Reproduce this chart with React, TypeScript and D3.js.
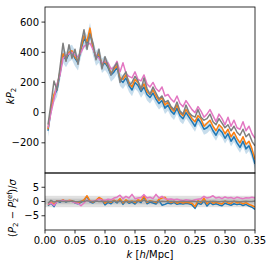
import React from 'react';
import * as d3 from 'd3';

// k bins [h/Mpc]
const kBins = [
  0.005, 0.01, 0.015, 0.02, 0.025, 0.03, 0.035, 0.04, 0.045, 0.05,
  0.055, 0.06, 0.065, 0.07, 0.075, 0.08, 0.085, 0.09, 0.095, 0.1,
  0.105, 0.11, 0.115, 0.12, 0.125, 0.13, 0.135, 0.14, 0.145, 0.15,
  0.155, 0.16, 0.165, 0.17, 0.175, 0.18, 0.185, 0.19, 0.195, 0.2,
  0.205, 0.21, 0.215, 0.22, 0.225, 0.23, 0.235, 0.24, 0.245, 0.25,
  0.255, 0.26, 0.265, 0.27, 0.275, 0.28, 0.285, 0.29, 0.295, 0.3,
  0.305, 0.31, 0.315, 0.32, 0.325, 0.33, 0.335, 0.34, 0.345, 0.35,
];

// kP2 for each run
const blueP2 = [
  -120, 20, 110, 150, 260, 380, 350, 390, 400, 360,
  330, 420, 490, 460, 540, 430, 360, 380, 310, 330,
  300, 250, 270, 300, 220, 200, 230, 180, 150, 200,
  180, 140, 170, 120, 100, 130, 90, 60, 80, 30,
  50, 10, -10, 30, -20, -40, 0, -30, -60, -90,
  -40, -70, -110, -100, -80, -120, -150, -110, -130, -170,
  -140, -190, -160, -200, -230, -190, -240, -220, -270, -340,
];
const orangeP2 = [
  -110, 30, 120, 170, 270, 390, 360, 400, 410, 370,
  340, 430, 510, 470, 560, 430, 370, 390, 320, 340,
  310, 260, 290, 310, 230, 220, 250, 200, 170, 220,
  200, 160, 190, 140, 120, 150, 110, 80, 100, 50,
  70, 30, 10, 50, 0, -20, 20, -10, -40, -60,
  -20, -40, -90, -70, -50, -90, -120, -80, -100, -140,
  -110, -160, -130, -170, -200, -160, -210, -190, -240, -310,
];
const pinkP2 = [
  -100, 0, 90, 190, 250, 360, 380, 390, 400, 380,
  370, 400, 440, 450, 460, 420, 380, 360, 330, 340,
  330, 290, 300, 340, 270, 330, 260, 240, 230, 270,
  220, 210, 250, 190, 170, 200, 160, 140, 170, 110,
  120, 90, 70, 110, 60, 40, 80, 50, 20, 0,
  40, 10, -30, -10, 20, -20, -60, -10, -40, -80,
  -30, -90, -50, -100, -110, -60, -120, -90, -140, -170,
];
const grayP2 = [
  -80, 60, 210, 150, 300, 460, 340, 450, 360, 420,
  320, 450, 550, 420, 520, 460, 350, 420, 290, 370,
  310, 250, 300, 330, 200, 240, 270, 180, 200, 240,
  210, 150, 230, 160, 120, 170, 130, 90, 110, 70,
  80, 40, 20, 70, 10, -10, 50, 0, -20, -30,
  20, -30, -50, -40, -10, -60, -80, -40, -70, -100,
  -80, -120, -90, -130, -150, -110, -160, -140, -190, -220,
];
// 1-sigma error on kP2 (blue band)
const sigmaP2 = [
  40, 42, 45, 45, 48, 50, 50, 52, 50, 52,
  50, 52, 55, 52, 55, 52, 50, 50, 48, 48,
  46, 46, 45, 45, 44, 44, 43, 43, 42, 42,
  42, 41, 41, 40, 40, 40, 40, 39, 39, 39,
  38, 38, 38, 38, 38, 37, 37, 37, 37, 37,
  36, 36, 36, 36, 36, 36, 36, 35, 35, 35,
  35, 35, 35, 35, 35, 35, 35, 35, 35, 35,
];

// residuals (P2 - P2ref)/sigma
const blueRes = [
  -1.5, -0.5, -1.8, 0.2, -0.3, 0.5, -0.2, 0.3, 0.1, -0.5,
  -0.8, -0.3, 0.4, 1.8, -0.2, -0.5, 0.2, 1.2, 0.5, -1.2,
  -0.3, -0.8, 0.2, -0.5, 0.8, -1.0, 0.3, -0.6, -0.2, -0.9,
  0.2, -0.4, 1.6, -0.8, -0.2, -0.5, -0.9, 0.3, -1.3, -1.0,
  -0.5, -0.8, -0.3, -1.0, -0.7, -0.9, -0.6, -0.8, -1.2, -2.4,
  -0.6, -1.0, 0.2, -1.6, -0.4, -1.1, -0.8, -1.2, -1.5, -0.6,
  -1.0, -1.3, -0.8, -1.1, -0.9, -1.4, -1.0, -1.6, -2.0, -2.8,
];
const orangeRes = [
  -1.2, -0.2, -1.0, 0.3, 0.0, 0.6, 0.0, 0.4, 0.3, -0.3,
  -0.5, 0.0, 0.6, 2.0, 0.2, -0.2, 0.4, 1.4, 0.8, -0.6,
  0.1, -0.3, 0.5, -0.1, 1.0, -0.5, 0.6, -0.2, 0.2, -0.4,
  0.6, 0.1, 2.0, -0.3, 0.3, 0.0, -0.4, 0.8, 1.2, 1.5,
  0.2, -0.4, 0.1, -0.6, -0.2, -0.5, -0.3, -0.4, -0.6, -1.8,
  0.3, -0.4, 1.2, -0.8, 0.1, -0.6, -0.3, -0.6, -0.9, 0.2,
  -0.5, -0.7, 0.1, -0.5, -0.3, -0.8, -0.4, -1.0, -1.4, -2.0,
];
const pinkRes = [
  -1.0, -0.5, -1.4, 0.0, 0.2, 0.4, 0.1, 0.2, 0.0, -0.4,
  -0.6, -1.5, -0.5, 0.5, 0.0, 0.2, 0.3, 0.8, 0.5, 0.4,
  0.8, 0.6, 1.2, 1.5, 2.2, 1.0, 1.8, 1.2, 2.5, 1.0,
  1.2, 1.4, 2.4, 1.2, 1.5, 1.0, 2.5, 1.2, 1.8, 1.0,
  0.8, 0.9, 0.6, 0.8, 0.5, 0.3, 0.6, 0.4, 0.2, 0.6,
  0.8, 1.0, 1.8, 1.2, 1.5, 2.0, 1.2, 1.5, 1.0, 1.6,
  1.2, 1.4, 1.0, 1.5, 1.2, 1.0, 1.3, 1.2, 1.5, 1.2,
];
const grayRes = [
  -0.6, 0.4, -0.2, 0.1, 0.2, 0.0, 0.1, 0.0, 0.2, 0.0,
  -0.1, 0.1, 0.0, 0.3, 0.1, 0.0, 0.2, 0.0, 0.1, 0.0,
  0.1, 0.0, 0.2, 0.0, 0.1, -0.1, 0.0, 0.1, 0.0, 0.1,
  0.0, 0.1, 0.4, 0.0, 0.1, 0.0, -0.1, 0.0, 0.1, 0.0,
  0.0, 0.1, 0.0, -0.1, 0.0, 0.1, 0.0, 0.0, 0.1, 0.0,
  -0.1, 0.0, 0.1, 0.0, 0.0, 0.1, 0.0, -0.1, 0.0, 0.1,
  0.0, 0.0, 0.1, 0.0, -0.1, 0.0, 0.1, 0.0, 0.0, 0.2,
];

const xTicks = [0, 0.05, 0.1, 0.15, 0.2, 0.25, 0.3, 0.35];
const topTicks = [-200, 0, 200, 400, 600];
const botTicks = [-5, 0, 5];

const series = [
  { name: 'blue', color: '#1f77b4', p2: blueP2, res: blueRes },
  { name: 'orange', color: '#ff7f0e', p2: orangeP2, res: orangeRes },
  { name: 'pink', color: '#e377c2', p2: pinkP2, res: pinkRes },
  { name: 'gray', color: '#7f7f7f', p2: grayP2, res: grayRes },
];

const fmt = (v: number) => (v < 0 ? '\u2212' + Math.abs(v) : String(v));

export default function App() {
  const L = 45, R = 255, T1 = 7, B1 = 173, B2 = 230;
  const x = d3.scaleLinear().domain([0, 0.35]).range([L, R]);
  const yTop = d3.scaleLinear().domain([-400, 700]).range([B1, T1]);
  const yBot = d3.scaleLinear().domain([-10, 10]).range([B2, B1]);

  const band = d3.area<number>()
    .x((_, i) => x(kBins[i]))
    .y0((d, i) => yTop(d - sigmaP2[i]))
    .y1((d, i) => yTop(d + sigmaP2[i]));
  const lineTop = d3.line<number>().x((_, i) => x(kBins[i])).y(d => yTop(d));
  const lineBot = d3.line<number>().x((_, i) => x(kBins[i])).y(d => yBot(d));

  const font = 'DejaVu Sans, sans-serif';

  return (
    <svg width={266} height={266} style={{ position: 'absolute', left: 0, top: 0 }}
      fontFamily={font} fontSize={10}>
      <rect width={266} height={266} fill="#fff" />
      <defs>
        <clipPath id="clipTop"><rect x={L} y={T1} width={R - L} height={B1 - T1} /></clipPath>
        <clipPath id="clipBot"><rect x={L} y={B1} width={R - L} height={B2 - B1} /></clipPath>
      </defs>

      {/* top panel */}
      <g clipPath="url(#clipTop)">
        <path d={band(blueP2) ?? ''} fill="#1f77b4" fillOpacity={0.25} stroke="none" />
        {series.map(s => (
          <path key={s.name} d={lineTop(s.p2) ?? ''} fill="none" stroke={s.color}
            strokeWidth={1.5} strokeLinejoin="round" />
        ))}
      </g>

      {/* bottom panel */}
      <g clipPath="url(#clipBot)">
        <rect x={L} y={yBot(2)} width={R - L} height={yBot(-2) - yBot(2)} fill="#e0e0e0" />
        <rect x={L} y={yBot(1)} width={R - L} height={yBot(-1) - yBot(1)} fill="#c8c8c8" />
        {series.map(s => (
          <path key={s.name} d={lineBot(s.res) ?? ''} fill="none" stroke={s.color}
            strokeWidth={1.5} strokeLinejoin="round" />
        ))}
      </g>

      {/* frames */}
      <rect x={L} y={T1} width={R - L} height={B1 - T1} fill="none" stroke="#000" strokeWidth={0.8} />
      <rect x={L} y={B1} width={R - L} height={B2 - B1} fill="none" stroke="#000" strokeWidth={0.8} />

      {/* y ticks top */}
      {topTicks.map(t => (
        <g key={t}>
          <line x1={L - 3.5} x2={L} y1={yTop(t)} y2={yTop(t)} stroke="#000" strokeWidth={0.8} />
          <text x={L - 6} y={yTop(t)} dy="0.35em" textAnchor="end">{fmt(t)}</text>
        </g>
      ))}
      {/* y ticks bottom */}
      {botTicks.map(t => (
        <g key={t}>
          <line x1={L - 3.5} x2={L} y1={yBot(t)} y2={yBot(t)} stroke="#000" strokeWidth={0.8} />
          <text x={L - 6} y={yBot(t)} dy="0.35em" textAnchor="end">{fmt(t)}</text>
        </g>
      ))}
      {/* x ticks */}
      {xTicks.map(t => (
        <g key={t}>
          <line x1={x(t)} x2={x(t)} y1={B2} y2={B2 + 3.5} stroke="#000" strokeWidth={0.8} />
          <text x={x(t)} y={B2 + 14} textAnchor="middle">{t.toFixed(2)}</text>
        </g>
      ))}

      {/* labels */}
      <text x={x(0.175)} y={B2 + 28} textAnchor="middle">
        <tspan fontStyle="italic">k</tspan> [<tspan fontStyle="italic">h</tspan>/Mpc]
      </text>
      <text transform={`translate(14, ${(T1 + B1) / 2 + 6}) rotate(-90)`} textAnchor="middle">
        <tspan fontStyle="italic">kP</tspan><tspan fontSize={7} dy={2}>2</tspan>
      </text>
      <text transform={`translate(16, 208) rotate(-90)`} textAnchor="middle">
        (<tspan fontStyle="italic">P</tspan><tspan fontSize={7} dy={2}>2</tspan><tspan dy={-2}> − </tspan>
        <tspan fontStyle="italic">P</tspan><tspan fontSize={7} dy={-4}>ref</tspan>
        <tspan fontSize={7} dx={-10} dy={6}>2</tspan><tspan dy={-2} dx={5}>)/</tspan>
        <tspan fontStyle="italic">σ</tspan>
      </text>
    </svg>
  );
}
